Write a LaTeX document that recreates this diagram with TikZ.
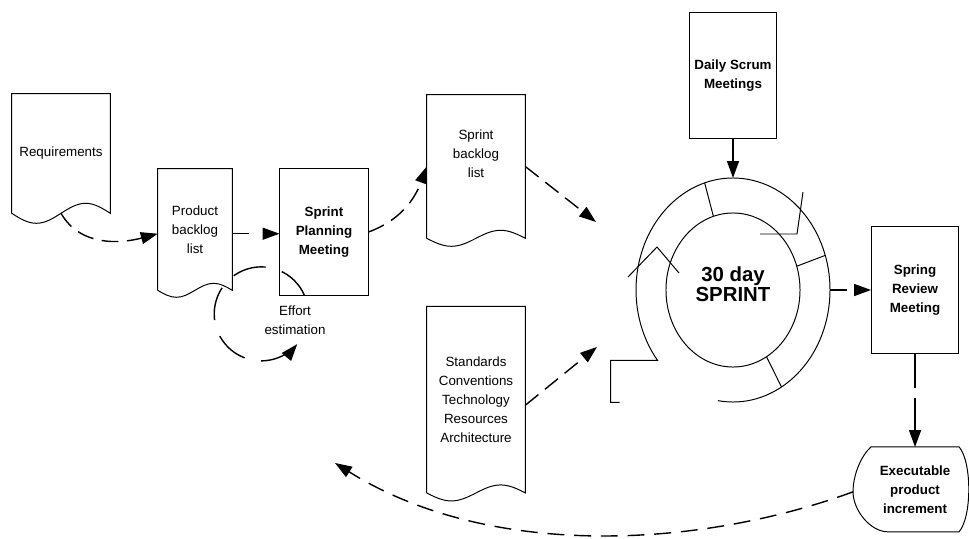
\documentclass[tikz,border=0pt]{standalone}
\usepackage{fontspec}
\setmainfont{Liberation Sans}
\usetikzlibrary{shapes.geometric,arrows.meta,positioning,calc}

% page outline with a wavy lower edge, drawn round a named node
\newcommand{\docframe}[2]{%
  \draw[frame] (#1.south west) -- (#1.north west) -- (#1.north east) -- (#1.south east)
    sin ($(#1.south east)!0.25!(#1.south west)+(0,#2)$)
    cos ($(#1.south east)!0.5!(#1.south west)$)
    sin ($(#1.south east)!0.75!(#1.south west)+(0,-#2)$)
    cos (#1.south west);}

\begin{document}
\begin{tikzpicture}[
    x=0.025cm, y=0.025cm,
    doc/.style={rectangle, inner sep=0pt, minimum width=2.45cm, align=center,
                font=\fontsize{9.5}{13.5}\selectfont},
    meeting/.style={rectangle, draw, line width=0.7pt, minimum width=2.175cm,
                minimum height=3.15cm, align=center, font=\fontsize{9.5}{13.5}\selectfont\bfseries},
    frame/.style={line width=0.7pt},
    flow/.style={-{Triangle[length=12pt,width=8.5pt]}, line width=1pt, dash pattern=on 12pt off 6pt},
    feed/.style={-{Triangle[length=12pt,width=8.5pt]}, line width=1pt}
]
\useasboundingbox (0,0) rectangle (969,-539);

% documents and meetings
\node[doc, minimum height=2.975cm] (req) at (61,-153.5) {Requirements};
\node[doc, minimum width=1.85cm, minimum height=3.025cm] (pbl) at (195,-229.5) {Product\\backlog\\list};
\node[meeting, minimum width=2.2cm] (spm) at (324,-232) {Sprint\\Planning\\Meeting};
\node[doc, minimum height=3.575cm, text depth=18pt] (sbl) at (476,-166.5) {Sprint\\backlog\\list};
\node[doc, minimum height=4.65cm, below=1.7cm of sbl] (std) {Standards\\Conventions\\Technology\\Resources\\Architecture};
\node[font=\fontsize{9.5}{13.5}\selectfont, align=center] (effort) at (295,-320) {Effort\\estimation};

\docframe{req}{10}
\docframe{pbl}{7}
\docframe{sbl}{8}
\docframe{std}{8}

% sprint cycle
\node[ellipse, minimum width=4.85cm, minimum height=5.6cm, inner sep=0pt, outer sep=0pt] (ring) at (733,-290) {};
\node[ellipse, draw, frame, minimum width=3.35cm, minimum height=3.85cm, inner sep=0pt, align=center,
      text depth=8.5pt, font=\fontsize{14.5}{13}\selectfont\bfseries] (sprint) at (ring.center) {30 day\\SPRINT};
\begin{scope}[shift={(ring.center)}, frame]
  \draw (-99:97 and 112) arc[start angle=-99, end angle=219, x radius=97, y radius=112]
        -- ++(-47,0) -- ++(0,-42) -- ++(9,0);
  \foreach \a in {107,18,-60}
    \draw (\a:67 and 77) -- (\a:97 and 112);
  \draw (27,56) -- (64,56) -- (70,98);
  \draw (-105,13) -- (-76,43) -- (-54,17);
\end{scope}

\node[meeting, above=0.975cm of ring] (dsm) {Daily Scrum\\Meetings};
\node[meeting, minimum height=3.175cm, right=1.025cm of ring] (srm) {Spring\\Review\\Meeting};

% increment
\node[inner sep=0pt, minimum width=2.2cm, minimum height=2.125cm, align=center,
      font=\fontsize{9.5}{13.5}\selectfont\bfseries, below=2.325cm of srm] (epi) {Executable\\product\\increment};
\begin{scope}[shift={(epi.center)}]
  \draw[frame] (-44,43) -- (44,43) .. controls (57,28) and (57,-27) .. (44,-42) -- (-27,-42)
     .. controls (-45,-42) and (-62,-20) .. (-62,-2) .. controls (-62,15) and (-54,34) .. cycle;
  \coordinate (epitip) at (-62,-2);
\end{scope}

\coordinate (inNW) at (596,-222);
\coordinate (inSW) at (597,-347);
\coordinate (back) at (335,-463);

% connectors
\draw[flow] (req.south) to[out=-60, in=195] ([yshift=-3pt]pbl.west);
\draw[flow, dash pattern=on 12pt off 20pt] ([yshift=-3pt]pbl.east) -- ([yshift=-3pt]pbl.east -| spm.west);
\draw[flow] (spm.east) to[out=20, in=-110] (sbl.west);
\draw[flow] (sbl.east) -- (inNW);
\draw[flow] ([yshift=-4pt]std.east) -- (inSW);
\draw[feed] (dsm) -- (ring);
\draw[flow, dash pattern=on 12pt off 20pt] (ring) -- (srm);
\draw[flow, dash pattern=on 24pt off 7pt] (srm) -- (epi);
\draw[flow, dash pattern=on 12pt off 7pt] (epitip) .. controls (700,-548) and (490,-560) .. (back);
\draw[flow, dash pattern=on 24pt off 12pt] ($(spm.south west)+(25,0)$) arc[start angle=23, end angle=320, radius=47];
\end{tikzpicture}
\end{document}
